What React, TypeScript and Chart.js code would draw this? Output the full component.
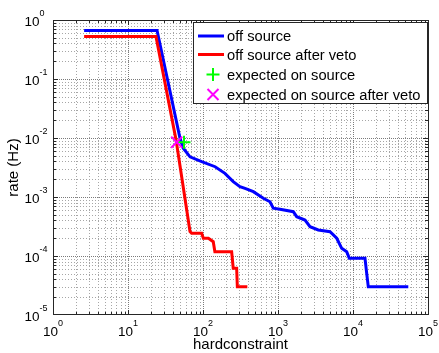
import React, { useEffect, useRef } from "react";
import { Chart, registerables } from "chart.js";

Chart.register(...registerables);

// ---- data ----
const blueX = [2.6, 24.4, 49.3, 54.6, 67.1, 96, 145, 196, 253, 311, 363, 469, 637, 782, 865, 1063, 1600, 1775, 2291, 2673, 3444, 4936, 6067, 7066, 8240, 8930, 14450, 15230, 16000, 54600];
const blueY = [0.664, 0.664, 0.01, 0.0067, 0.0048, 0.00397, 0.00326, 0.00252, 0.00182, 0.0015, 0.0014, 0.00123, 0.00095, 0.00083, 0.000645, 0.00062, 0.000564, 0.000464, 0.000407, 0.000314, 0.000276, 0.000258, 0.0002, 0.000135, 0.000118, 9.14e-5, 9.14e-5, 5.09e-5, 3.0e-5, 3.0e-5];

const redX = [2.6, 23.6, 43.7, 67.1, 70.6, 96, 101, 118, 137, 144, 241, 253, 281, 287, 390];
const redY = [0.525, 0.525, 0.0093, 2.6e-4, 2.43e-4, 2.43e-4, 2.0e-4, 2.0e-4, 1.75e-4, 1.18e-4, 1.18e-4, 6.2e-5, 6.2e-5, 3.0e-5, 3.0e-5];

const expectedX = [55.8];
const expectedY = [0.0085];
const expectedVetoX = [44.6];
const expectedVetoY = [0.0085];

const xDecades = [0, 1, 2, 3, 4, 5];
const yDecades = [-5, -4, -3, -2, -1, 0];

const legendLabels = [
  "off source",
  "off source after veto",
  "expected on source",
  "expected on source after veto",
];
const legendColors = ["#0000ff", "#ff0000", "#00ff00", "#ff00ff"];

const xTitle = "hardconstraint";
const yTitle = "rate (Hz)";

const FONT = "'Liberation Sans', Arial, Helvetica, sans-serif";

function pts(xs: number[], ys: number[]) {
  return xs.map((x, i) => ({ x, y: ys[i] }));
}

export default function App() {
  const ref = useRef<HTMLCanvasElement>(null);

  useEffect(() => {
    const canvas = ref.current!;

    const deco = {
      id: "deco",
      beforeDatasetsDraw(chart: any) {
        const ctx = chart.ctx as CanvasRenderingContext2D;
        const a = chart.chartArea;
        const xs = chart.scales.x;
        const ys = chart.scales.y;
        ctx.save();
        ctx.lineWidth = 1;
        for (let e = 0; e < 5; e++) {
          for (let m = 1; m < 10; m++) {
            const v = m * Math.pow(10, e);
            if (v <= 1 || v >= 1e5) continue;
            const p = Math.round(xs.getPixelForValue(v)) + 0.5;
            const major = m === 1;
            ctx.strokeStyle = major ? "#7a7a7a" : "#a6a6a6";
            ctx.setLineDash(major ? [1, 1] : [1, 2]);
            ctx.beginPath();
            ctx.moveTo(p, a.top);
            ctx.lineTo(p, a.bottom);
            ctx.stroke();
          }
        }
        for (let e = -5; e < 0; e++) {
          for (let m = 1; m < 10; m++) {
            const v = m * Math.pow(10, e);
            if (v <= 1e-5 || v >= 1) continue;
            const p = Math.round(ys.getPixelForValue(v)) + 0.5;
            const major = m === 1;
            ctx.strokeStyle = major ? "#7a7a7a" : "#a6a6a6";
            ctx.setLineDash(major ? [1, 1] : [1, 2]);
            ctx.beginPath();
            ctx.moveTo(a.left, p);
            ctx.lineTo(a.right, p);
            ctx.stroke();
          }
        }
        ctx.restore();
      },
      afterDatasetsDraw(chart: any) {
        const ctx = chart.ctx as CanvasRenderingContext2D;
        const a = chart.chartArea;
        const xs = chart.scales.x;
        const ys = chart.scales.y;
        ctx.save();
        ctx.setLineDash([]);
        ctx.strokeStyle = "#262626";
        ctx.lineWidth = 1;
        for (let e = 0; e < 5; e++) {
          for (let m = 1; m < 10; m++) {
            const v = m * Math.pow(10, e);
            if (v <= 1 || v >= 1e5) continue;
            const p = Math.round(xs.getPixelForValue(v)) + 0.5;
            const len = m === 1 ? 5 : 3;
            ctx.beginPath();
            ctx.moveTo(p, a.bottom);
            ctx.lineTo(p, a.bottom - len);
            ctx.moveTo(p, a.top);
            ctx.lineTo(p, a.top + len);
            ctx.stroke();
          }
        }
        for (let e = -5; e < 0; e++) {
          for (let m = 1; m < 10; m++) {
            const v = m * Math.pow(10, e);
            if (v <= 1e-5 || v >= 1) continue;
            const p = Math.round(ys.getPixelForValue(v)) + 0.5;
            const len = m === 1 ? 5 : 3;
            ctx.beginPath();
            ctx.moveTo(a.left, p);
            ctx.lineTo(a.left + len, p);
            ctx.moveTo(a.right, p);
            ctx.lineTo(a.right - len, p);
            ctx.stroke();
          }
        }
        ctx.strokeRect(a.left + 0.5, a.top + 0.5, a.right - a.left, a.bottom - a.top - 1);

        ctx.fillStyle = "#000";
        const baseFont = `13.5px ${FONT}`;
        const supFont = `9px ${FONT}`;
        ctx.textBaseline = "alphabetic";
        xDecades.forEach((e) => {
          const px = xs.getPixelForValue(Math.pow(10, e));
          ctx.font = baseFont;
          const wb = ctx.measureText("10").width;
          ctx.font = supFont;
          const sup = String(e);
          const wsp = ctx.measureText(sup).width;
          const start = px - (wb + wsp) / 2;
          ctx.font = baseFont;
          ctx.textAlign = "left";
          ctx.fillText("10", start, a.bottom + 21);
          ctx.font = supFont;
          ctx.fillText(sup, start + wb, a.bottom + 10.5);
        });
        yDecades.forEach((e) => {
          const py = ys.getPixelForValue(Math.pow(10, e));
          ctx.font = baseFont;
          ctx.textAlign = "right";
          ctx.fillText("10", a.left - 13.5, py + 5.5);
          ctx.font = supFont;
          ctx.textAlign = "left";
          ctx.fillText(String(e), a.left - 13.5, py - 4.5);
        });

        ctx.font = `15px ${FONT}`;
        ctx.textAlign = "center";
        ctx.fillText(xTitle, (a.left + a.right) / 2, 349);
        ctx.save();
        ctx.translate(13.5, (a.top + a.bottom) / 2);
        ctx.rotate(-Math.PI / 2);
        ctx.textBaseline = "middle";
        ctx.fillText(yTitle, 0, 0);
        ctx.restore();

        const lw = 235;
        const lh = 81;
        const lx = a.right - lw;
        const ly = a.top + 2;
        ctx.fillStyle = "#fff";
        ctx.fillRect(lx, ly, lw, lh);
        ctx.strokeStyle = "#262626";
        ctx.lineWidth = 1;
        ctx.strokeRect(lx + 0.5, ly + 0.5, lw - 1, lh);
        const rows = [14, 32.5, 52.5, 72.5];
        ctx.font = `14.7px ${FONT}`;
        ctx.textAlign = "left";
        ctx.textBaseline = "middle";
        legendLabels.forEach((lab, i) => {
          const ry = ly + rows[i];
          ctx.strokeStyle = legendColors[i];
          ctx.lineWidth = i < 2 ? 3 : 2;
          const cx = lx + 20;
          ctx.beginPath();
          if (i === 0 || i === 1) {
            ctx.moveTo(lx + 5, ry);
            ctx.lineTo(lx + 31, ry);
          } else if (i === 2) {
            ctx.moveTo(cx - 6.5, ry);
            ctx.lineTo(cx + 6.5, ry);
            ctx.moveTo(cx, ry - 6.5);
            ctx.lineTo(cx, ry + 6.5);
          } else {
            ctx.moveTo(cx - 5.5, ry - 5.5);
            ctx.lineTo(cx + 5.5, ry + 5.5);
            ctx.moveTo(cx - 5.5, ry + 5.5);
            ctx.lineTo(cx + 5.5, ry - 5.5);
          }
          ctx.stroke();
          ctx.fillStyle = "#000";
          ctx.fillText(lab, lx + 34, ry + 1);
        });
        ctx.restore();
      },
    };

    const chart = new Chart(canvas, {
      type: "line",
      data: {
        datasets: [
          {
            label: legendLabels[0],
            data: pts(blueX, blueY),
            borderColor: legendColors[0],
            borderWidth: 3,
            pointRadius: 0,
            tension: 0,
            fill: false,
            order: 4,
          },
          {
            label: legendLabels[1],
            data: pts(redX, redY),
            borderColor: legendColors[1],
            borderWidth: 3,
            pointRadius: 0,
            tension: 0,
            fill: false,
            order: 3,
          },
          {
            label: legendLabels[2],
            data: pts(expectedX, expectedY),
            showLine: false,
            borderColor: legendColors[2],
            backgroundColor: legendColors[2],
            pointStyle: "cross",
            pointRadius: 6.5,
            pointBorderWidth: 2,
            order: 2,
          },
          {
            label: legendLabels[3],
            data: pts(expectedVetoX, expectedVetoY),
            showLine: false,
            borderColor: legendColors[3],
            backgroundColor: legendColors[3],
            pointStyle: "crossRot",
            pointRadius: 7.8,
            pointBorderWidth: 2,
            order: 1,
          },
        ],
      },
      options: {
        animation: false,
        responsive: false,
        devicePixelRatio: 1,
        events: [],
        layout: { padding: { left: 53, top: 20, right: 11, bottom: 38 } },
        scales: {
          x: { type: "logarithmic", min: 1, max: 1e5, display: false },
          y: { type: "logarithmic", min: 1e-5, max: 1, display: false },
        },
        plugins: {
          legend: { display: false },
          tooltip: { enabled: false },
          title: { display: false },
        },
      },
      plugins: [deco],
    } as any);

    return () => chart.destroy();
  }, []);

  return (
    <div
      style={{
        position: "absolute",
        left: 0,
        top: 0,
        width: 439,
        height: 353,
        background: "#fff",
      }}
    >
      <canvas ref={ref} width={439} height={353} style={{ display: "block" }} />
    </div>
  );
}
